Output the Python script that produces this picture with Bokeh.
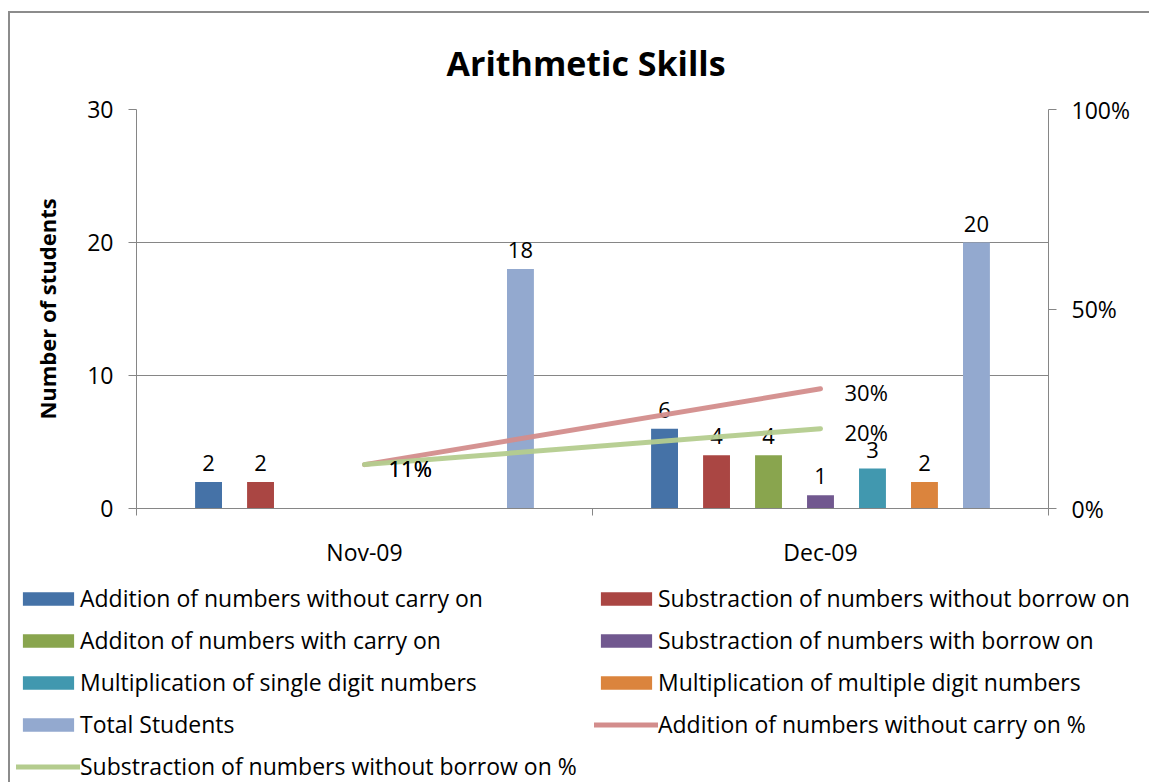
import numpy as np
from bokeh.plotting import figure
from bokeh.models import (ColumnDataSource, Range1d, LinearAxis, FixedTicker,
                          Legend, LegendItem, NumeralTickFormatter)
from bokeh.transform import dodge
from bokeh.core.properties import value
from bokeh.embed import file_html
from bokeh.resources import INLINE

# ---------------- data ----------------
months = ["Nov-09", "Dec-09"]
add_no_carry = [2, 6]
sub_no_borrow = [2, 4]
add_carry = [None, 4]
sub_borrow = [None, 1]
mult_single = [None, 3]
mult_multi = [None, 2]
total_students = [18, 20]
add_no_carry_pct = [0.11, 0.30]
sub_no_borrow_pct = [0.11, 0.20]

bar_names = ["Addition of numbers without carry on",
             "Substraction of numbers without borrow on",
             "Additon of numbers with carry on",
             "Substraction of numbers with borrow on",
             "Multiplication of single digit numbers",
             "Multiplication of multiple digit numbers",
             "Total Students"]
bar_values = [add_no_carry, sub_no_borrow, add_carry, sub_borrow,
              mult_single, mult_multi, total_students]
bar_colors = ["#4572A7", "#AA4643", "#89A54E", "#71588F", "#4198AF", "#DB843D", "#93A9CF"]
line_names = ["Addition of numbers without carry on %",
              "Substraction of numbers without borrow on %"]
line_values = [add_no_carry_pct, sub_no_borrow_pct]
line_colors = ["#D38D8C", "#B4CC8E"]

FONT = "Open Sans"
GRAY = "#868686"

xs = list(range(len(months)))
data = {"x": xs}
for i, v in enumerate(bar_values):
    data[f"b{i}"] = np.array([np.nan if t is None else t for t in v], dtype=float)
for i, v in enumerate(line_values):
    data[f"l{i}"] = np.array(v, dtype=float)
src = ColumnDataSource(data)

W = 1141
p = figure(width=W, height=560, x_range=Range1d(-0.5, 1.5), y_range=Range1d(0, 30),
           output_backend="svg", toolbar_location=None,
           min_border_left=126, min_border_right=103, min_border_top=96, min_border_bottom=65)
p.outline_line_color = None
p.background_fill_color = "white"
p.border_fill_color = "white"
p.extra_y_ranges = {"pct": Range1d(0, 1)}
p.styles = {"margin-left": "8px", "margin-top": "11px",
            "border-left": "2px solid #8C8C8C", "border-top": "2px solid #8C8C8C"}

# title
p.title.text = "Arithmetic Skills"
p.title.align = "left"
p.title.offset = 310
p.title.text_font = FONT
p.title.text_font_size = "34px"
p.title.text_font_style = "bold"
p.title.text_color = "black"
p.title.standoff = 48

# grid
p.xgrid.visible = False
p.ygrid.ticker = FixedTicker(ticks=[0, 10, 20, 30])
p.ygrid.grid_line_color = GRAY
p.ygrid.grid_line_width = 1

# left axis
ya = p.yaxis[0]
ya.ticker = FixedTicker(ticks=[0, 10, 20, 30])
ya.axis_line_color = GRAY
ya.major_tick_line_color = GRAY
ya.major_tick_out = 8
ya.major_tick_in = 0
ya.minor_tick_line_color = None
ya.major_label_standoff = 15
ya.major_label_text_font = FONT
ya.major_label_text_font_size = "23px"
ya.major_label_text_color = "black"
ya.axis_label = "Number of students"
ya.axis_label_text_font = FONT
ya.axis_label_text_font_size = "22px"
ya.axis_label_text_font_style = "bold"
ya.axis_label_text_color = "black"
ya.axis_label_standoff = 22

# right axis
ra = LinearAxis(y_range_name="pct", ticker=FixedTicker(ticks=[0, 0.5, 1.0]),
                formatter=NumeralTickFormatter(format="0%"))
ra.axis_line_color = GRAY
ra.major_tick_line_color = GRAY
ra.major_tick_out = 8
ra.major_tick_in = 0
ra.minor_tick_line_color = None
ra.major_label_standoff = 15
ra.major_label_text_font = FONT
ra.major_label_text_font_size = "23px"
ra.major_label_text_color = "black"
p.add_layout(ra, "right")

# bottom axis
xa = p.xaxis[0]
xa.ticker = FixedTicker(ticks=xs, minor_ticks=[-0.5, 0.5, 1.5])
xa.major_label_overrides = {i: m for i, m in enumerate(months)}
xa.axis_line_color = GRAY
xa.major_tick_line_color = None
xa.major_tick_out = 0
xa.major_tick_in = 0
xa.minor_tick_line_color = GRAY
xa.minor_tick_out = 7
xa.minor_tick_in = 0
xa.major_label_standoff = 20
xa.major_label_text_font = FONT
xa.major_label_text_font_size = "23px"
xa.major_label_text_color = "black"

# bars
step = 0.114
bw = 0.059
for i, (name, col) in enumerate(zip(bar_names, bar_colors)):
    off = (i - 3) * step
    p.vbar(x=dodge("x", off, range=p.x_range), top=f"b{i}", width=bw, bottom=0,
           source=src, fill_color=col, line_color=None)
    vals = bar_values[i]
    lx = [xs[k] for k, t in enumerate(vals) if t is not None]
    ly = [t for t in vals if t is not None]
    lsrc = ColumnDataSource({"x": lx, "y": ly, "t": [str(t) for t in ly]})
    p.text(x=dodge("x", off, range=p.x_range), y="y", text="t", source=lsrc,
           text_align="center", text_baseline="alphabetic", y_offset=-19,
           text_font=value(FONT), text_font_size="22px", text_color="black")

# lines
for i, (name, col) in enumerate(zip(line_names, line_colors)):
    p.line(x="x", y=f"l{i}", source=src, y_range_name="pct", line_color=col,
           line_width=5, line_cap="round", line_alpha=0.95)
for i in range(len(line_names)):
    vals = line_values[i]
    lsrc = ColumnDataSource({"x": xs, "y": vals, "t": [f"{round(v*100)}%" for v in vals]})
    p.text(x="x", y="y", text="t", source=lsrc, y_range_name="pct",
           x_offset=24, y_offset=3, text_align="left", text_baseline="middle",
           text_font=value(FONT), text_font_size="22px", text_color="black")

# ---------------- legend panel ----------------
q = figure(width=W, height=211, x_range=Range1d(100, 101), y_range=Range1d(100, 101),
           output_backend="svg", toolbar_location=None,
           x_axis_location=None, y_axis_location=None,
           min_border_left=0, min_border_right=0, min_border_top=0, min_border_bottom=0)
q.outline_line_color = None
q.xgrid.visible = False
q.ygrid.visible = False
q.background_fill_color = "white"
q.border_fill_color = "white"
q.styles = {"margin-left": "8px", "border-left": "2px solid #8C8C8C"}

swatch = {}
for i, (name, col) in enumerate(zip(bar_names, bar_colors)):
    swatch[name] = q.vbar(x="x", top=f"b{i}", width=bw, source=src,
                          fill_color=col, line_color=None)
for i, (name, col) in enumerate(zip(line_names, line_colors)):
    swatch[name] = q.line(x="x", y=f"l{i}", source=src, line_color=col,
                          line_width=5, line_cap="round")

def make_legend(names, loc):
    lg = Legend(items=[LegendItem(label=n, renderers=[swatch[n]]) for n in names],
                location=loc, orientation="vertical",
                glyph_width=64, glyph_height=17, label_standoff=0, spacing=10,
                padding=0, margin=0, border_line_color=None, background_fill_alpha=0,
                label_text_font=FONT, label_text_font_size="23px", label_text_color="black",
                label_height=22)
    q.add_layout(lg)

make_legend([bar_names[0], bar_names[2], bar_names[4], bar_names[6], line_names[1]], (6, 0))
make_legend([bar_names[1], bar_names[3], bar_names[5], line_names[0]], (584, 42))

open("out.html", "w").write(file_html([p, q], INLINE))
